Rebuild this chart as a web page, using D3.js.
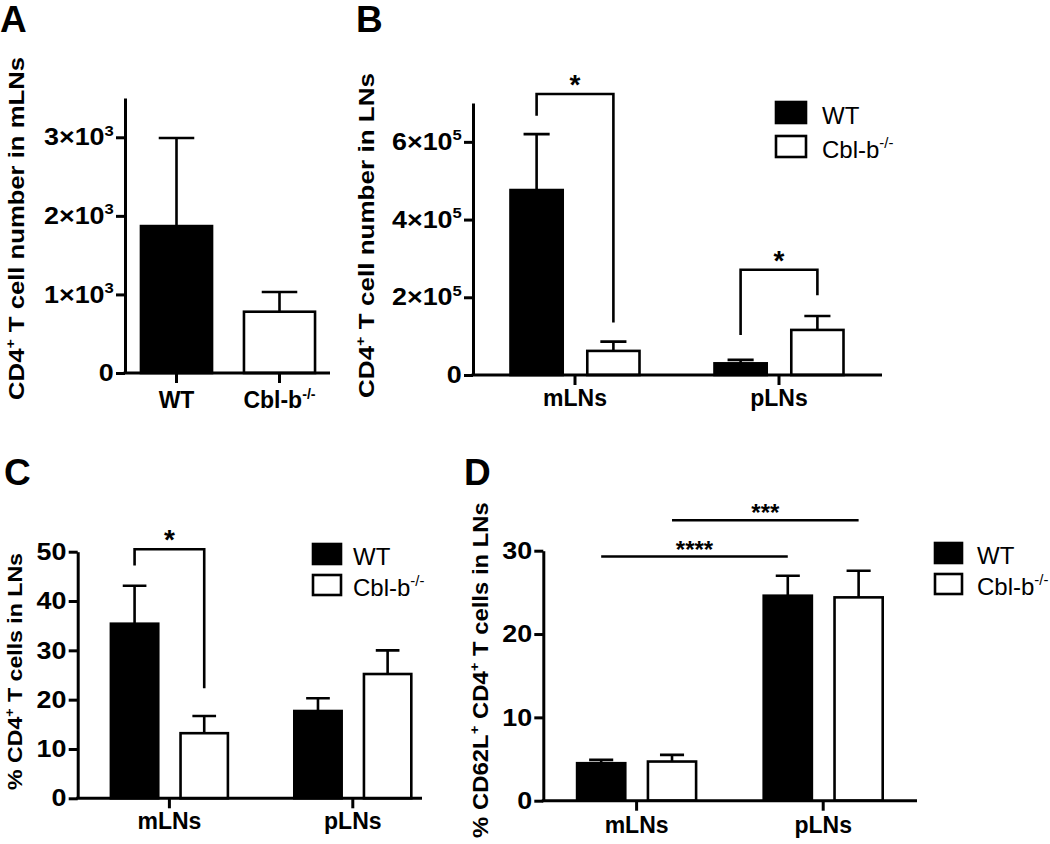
<!DOCTYPE html>
<html>
<head>
<meta charset="utf-8">
<script src="https://d3js.org/d3.v7.min.js"></script>
<style>
  body { margin: 0; background: #fff; }
  svg text { font-family: "Liberation Sans", Arial, Helvetica, sans-serif; fill: #000; }
</style>
</head>
<body>
<svg id="fig" width="1050" height="844"></svg>
<script>
// ---- data ----
// panel A: CD4+ T cell number in mLNs
const genotypes = ["WT", "Cbl-b"];
const cellsA = [1870, 780];
const semA = [1120, 250];
const ticksA = [0, 1000, 2000, 3000];

// panels B-D: two lymph node sites
const sites = ["mLNs", "pLNs"];

const wtB = [476000, 30000];
const wtSemB = [144000, 9000];
const koB = [62000, 116000];
const koSemB = [24000, 36000];
const ticksB = [0, 200000, 400000, 600000];

const wtC = [35.4, 17.7];
const wtSemC = [7.7, 2.6];
const koC = [13.2, 25.2];
const koSemC = [3.5, 4.8];
const ticksC = [0, 10, 20, 30, 40, 50];

const wtD = [4.5, 24.6];
const wtSemD = [0.4, 2.4];
const koD = [4.7, 24.4];
const koSemD = [0.8, 3.2];
const ticksD = [0, 10, 20, 30];

// significance marks (y in data units)
const sigB = [
  {a: ["mLNs", "WT"], b: ["mLNs", "KO"], ya: 667000, top: 723000, yb: 135000, label: "*"},
  {a: ["pLNs", "WT"], b: ["pLNs", "KO"], ya: 103000, top: 271000, yb: 205000, label: "*"}
];
const sigC = [
  {a: ["mLNs", "WT"], b: ["mLNs", "KO"], ya: 47.2, top: 50.5, yb: 22.3, label: "*"}
];
const sigD = [
  {a: ["mLNs", "WT"], b: ["pLNs", "WT"], top: 29.3, label: "****"},
  {a: ["mLNs", "KO"], b: ["pLNs", "KO"], top: 33.65, label: "***"}
];

const svg = d3.select("#fig");
const LW = 2.6;

// text with superscript parts: segs = ["CD4", ["+"], " T cells"]
function rich(t, segs, fs) {
  let shift = 0;
  segs.forEach(s => {
    const sup = Array.isArray(s);
    const ts = t.append("tspan").text(sup ? s[0] : s);
    if (sup) {
      ts.attr("font-size", fs * 0.62).attr("dy", -fs * 0.4);
      shift = fs * 0.4;
    } else if (shift) {
      ts.attr("dy", shift);
      shift = 0;
    }
  });
  return t;
}

function sciSegs(v, exp) {
  if (v === 0) return ["0"];
  return [(v / Math.pow(10, exp)) + "×10", [String(exp)]];
}

function yTitle(segs, x, cy, len, fs) {
  const t = svg.append("text")
    .attr("font-size", fs).attr("font-weight", "bold")
    .attr("text-anchor", "middle");
  rich(t, segs, fs);
  const w = t.node().getBBox().width;
  t.attr("transform", `translate(${x},${cy}) rotate(-90) scale(${len / w},1)`);
}

function letter(s, x, y) {
  svg.append("text").attr("x", x).attr("y", y)
    .attr("font-size", 37).attr("font-weight", "bold").text(s);
}

function yAxis(g, y, p) {
  const ax = g.append("g")
    .attr("transform", `translate(${p.x0},0)`)
    .call(d3.axisLeft(y).tickValues(p.ticks).tickSize(9).tickPadding(1).tickSizeOuter(0));
  ax.attr("font-size", 24).attr("font-weight", "bold").attr("font-family", null);
  ax.select(".domain").attr("stroke-width", 3);
  ax.selectAll(".tick line").attr("stroke-width", 3);
  ax.selectAll(".tick text").each(function (d) {
    const t = d3.select(this);
    t.text(null);
    rich(t, p.exp ? sciSegs(d, p.exp) : [String(d)], 24);
    t.attr("transform", "scale(1.12,1)");
  });
}

function xAxis(g, x, p, labelSegs) {
  const ax = g.append("g")
    .attr("transform", `translate(0,${p.y0})`)
    .call(d3.axisBottom(x).tickSize(10).tickSizeOuter(0));
  ax.attr("font-size", 23).attr("font-weight", "bold").attr("font-family", null);
  ax.select(".domain").attr("d", `M${p.x0 - 1.5},0H${p.xEnd}`).attr("stroke-width", 3);
  ax.selectAll(".tick line").attr("stroke-width", 3);
  ax.selectAll(".tick text").each(function (d) {
    const t = d3.select(this);
    t.text(null).attr("y", p.labelY).attr("dy", null);
    rich(t, labelSegs(d), 23);
  });
}

function bars(g, rows, cx, bw, y) {
  g.selectAll(null).data(rows).join("rect")
    .attr("x", d => cx(d) - bw / 2)
    .attr("y", d => y(d.v))
    .attr("width", bw)
    .attr("height", d => y(0) - y(d.v))
    .attr("fill", d => d.grp === "WT" ? "#000" : "#fff")
    .attr("stroke", "#000")
    .attr("stroke-width", LW);
  g.selectAll(null).data(rows).join("path")
    .attr("d", d => `M${cx(d)},${y(d.v)}V${y(d.v + d.e)}M${cx(d) - bw / 4},${y(d.v + d.e)}H${cx(d) + bw / 4}`)
    .attr("fill", "none")
    .attr("stroke", "#000")
    .attr("stroke-width", LW);
}

function legend(p) {
  const lg = svg.append("g");
  [["WT", "#000"], ["KO", "#fff"]].forEach(([k, c], i) => {
    const top = p.ly + i * p.lstep;
    lg.append("rect").attr("x", p.lx).attr("y", top)
      .attr("width", p.lw).attr("height", p.lh)
      .attr("fill", c).attr("stroke", "#000").attr("stroke-width", LW);
    const t = lg.append("text").attr("x", p.ltx).attr("y", top + p.lh + 0.5)
      .attr("font-size", 24);
    rich(t, k === "WT" ? ["WT"] : ["Cbl-b", ["-/-"]], 24);
  });
}

function starText(x, yBase, label, fs) {
  svg.append("text").attr("x", x).attr("y", yBase)
    .attr("text-anchor", "middle").attr("font-size", fs).attr("font-weight", "bold")
    .text(label);
}

const genoLabel = d => d === "WT" ? ["WT"] : ["Cbl-b", ["-/-"]];

// ---- panel A ----
function drawA(p) {
  const g = svg.append("g");
  const y = d3.scaleLinear().domain([0, p.yMax]).range([p.y0, p.y1]);
  const x = d3.scaleBand().domain(genotypes).range([p.x0, p.x0 + 2 * p.step])
    .paddingInner(0.31).paddingOuter(0.155);
  const rows = genotypes.map((k, i) => ({grp: k === "WT" ? "WT" : "KO", key: k, v: cellsA[i], e: semA[i]}));
  bars(g, rows, d => x(d.key) + x.bandwidth() / 2, x.bandwidth(), y);
  yAxis(g, y, p);
  xAxis(g, x, p, genoLabel);
}

// ---- panels B-D ----
function drawGrouped(p) {
  const g = svg.append("g");
  const y = d3.scaleLinear().domain([0, p.yMax]).range([p.y0, p.y1]);
  const x = d3.scaleBand().domain(sites).range([p.x0, p.x0 + 2 * p.step]);
  const xs = d3.scaleBand().domain(["WT", "KO"]).range([-p.groupW / 2, p.groupW / 2]).paddingInner(0.32);
  const cx = (site, grp) => x(site) + x.bandwidth() / 2 + xs(grp) + xs.bandwidth() / 2;
  const rows = [];
  sites.forEach((s, i) => {
    rows.push({site: s, grp: "WT", v: p.wt[i], e: p.wtSem[i]});
    rows.push({site: s, grp: "KO", v: p.ko[i], e: p.koSem[i]});
  });
  bars(g, rows, d => cx(d.site, d.grp), xs.bandwidth(), y);
  yAxis(g, y, p);
  xAxis(g, x, p, d => [d]);
  legend(p);

  p.sig.forEach(s => {
    const xa = cx(s.a[0], s.a[1]), xb = cx(s.b[0], s.b[1]);
    const d = s.ya !== undefined
      ? `M${xa},${y(s.ya)}V${y(s.top)}H${xb}V${y(s.yb)}`
      : `M${xa},${y(s.top)}H${xb}`;
    svg.append("path").attr("d", d).attr("fill", "none")
      .attr("stroke", "#000").attr("stroke-width", LW);
    starText((xa + xb) / 2, y(s.top) + p.starDy, s.label, p.starFs);
  });
}

drawA({yMax: 3500, ticks: ticksA, exp: 3, x0: 125, step: 103, xEnd: 330, y0: 373, y1: 98, labelY: 35});

drawGrouped({wt: wtB, wtSem: wtSemB, ko: koB, koSem: koSemB, ticks: ticksB, yMax: 700000, exp: 5,
  x0: 473, step: 204, groupW: 129, xEnd: 882, y0: 375, y1: 103, labelY: 31,
  lx: 776, ly: 102, lw: 30, lh: 21, lstep: 34, ltx: 822,
  sig: sigB, starDy: 0, starFs: 28});

drawGrouped({wt: wtC, wtSem: wtSemC, ko: koC, koSem: koSemC, ticks: ticksC, yMax: 50, exp: 0,
  x0: 77.7, step: 183.4, groupW: 117, xEnd: 422, y0: 798.3, y1: 551.7, labelY: 31,
  lx: 313, ly: 544, lw: 28, lh: 20, lstep: 31, ltx: 353,
  sig: sigC, starDy: 0, starFs: 28});

drawGrouped({wt: wtD, wtSem: wtSemD, ko: koD, koSem: koSemD, ticks: ticksD, yMax: 30, exp: 0,
  x0: 543.3, step: 186.6, groupW: 119, xEnd: 917, y0: 800.7, y1: 550.7, labelY: 32,
  lx: 935, ly: 543, lw: 27, lh: 20, lstep: 31, ltx: 977,
  sig: sigD, starDy: 1, starFs: 24});

// titles and panel letters
yTitle(["CD4", ["+"], " T cell number in mLNs"], 23.5, 228.5, 343, 22);
yTitle(["CD4", ["+"], " T cell number in LNs"], 373.5, 235.5, 325, 22);
yTitle(["% CD4", ["+"], " T cells in LNs"], 22, 671.5, 237, 21);
yTitle(["% CD62L", ["+"], " CD4", ["+"], " T cells in LNs"], 488, 670, 336, 22);

letter("A", 0, 32);
letter("B", 356, 32);
letter("C", 4, 485);
letter("D", 464, 485);
</script>
</body>
</html>
